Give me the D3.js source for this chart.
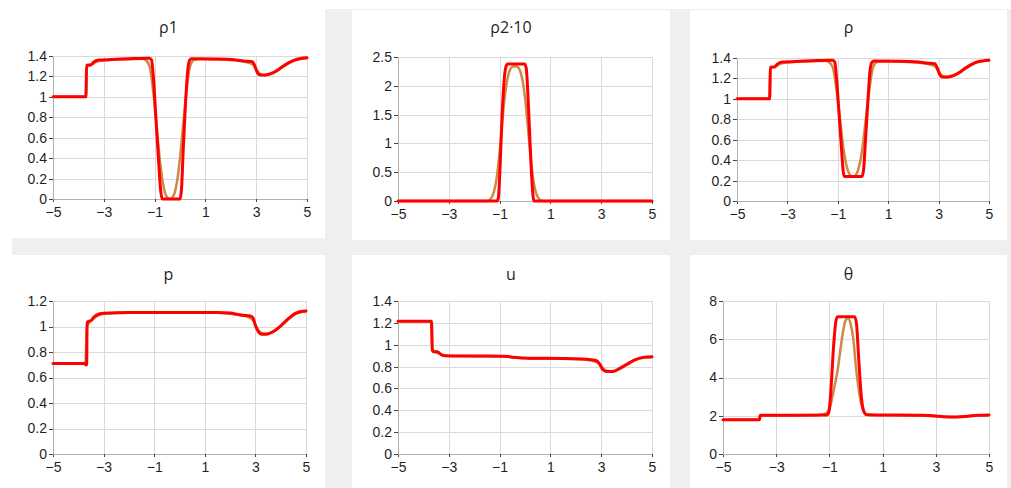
<!DOCTYPE html>
<html>
<head>
<meta charset="utf-8">
<title>Six profiles</title>
<script src="https://d3js.org/d3.v7.min.js"></script>
<style>
  body { margin: 0; background: #fff; }
  svg { display: block; font-family: "Segoe UI", "Open Sans", "Noto Sans", sans-serif; }
  .grid line { stroke: #dadada; stroke-width: 1; shape-rendering: crispEdges; }
  .axis path { stroke: #b0b0b0; shape-rendering: crispEdges; }
  .axis line { stroke: #444; shape-rendering: crispEdges; }
  .axis text { fill: #1f1f1f; font-size: 14px; }
  .title { fill: #1f1f1f; font-size: 16px; text-anchor: middle; }
  .approx { fill: none; stroke: #cd8a45; stroke-width: 2.5; stroke-linejoin: round; }
  .exact { fill: none; stroke: #ff0000; stroke-width: 3; stroke-linejoin: round; stroke-linecap: round; }
</style>
</head>
<body>
<script>
// tick values
var xTicks = [-5, -3, -1, 1, 3, 5];
var rho1Ticks = [0, 0.2, 0.4, 0.6, 0.8, 1, 1.2, 1.4];
var rho2Ticks = [0, 0.5, 1, 1.5, 2, 2.5];
var rhoTicks = [0, 0.2, 0.4, 0.6, 0.8, 1, 1.2, 1.4];
var pTicks = [0, 0.2, 0.4, 0.6, 0.8, 1, 1.2];
var uTicks = [0, 0.2, 0.4, 0.6, 0.8, 1, 1.2, 1.4];
var thetaTicks = [0, 2, 4, 6, 8];

// red = sharp solution, tan = smeared solution ([x, value])
var rho1Exact = [[-5,1],[-3.7,1],[-3.68,1.31],[-3.5,1.315],[-3.4,1.34],[-3.2,1.36],[-2.5,1.368],[-1.8,1.375],[-1.2,1.378],
  [-1.12,1.36],[-1.05,1.2],[-0.95,0.8],[-0.85,0.4],[-0.76,0.08],[-0.7,0],[0,0],[0.06,0.1],[0.13,0.5],[0.22,0.95],
  [0.3,1.25],[0.38,1.36],[0.45,1.372],[1.5,1.37],[2.2,1.362],[2.5,1.352],[2.85,1.345],[2.95,1.3],[3.05,1.235],
  [3.15,1.215],[3.35,1.215],[3.6,1.23],[3.8,1.255],[4.0,1.29],[4.25,1.33],[4.5,1.36],[4.75,1.375],[5,1.382]];
var rho1Approx = [[-5,1],[-3.72,1],[-3.66,1.3],[-3.5,1.312],[-3.35,1.335],[-3.1,1.355],[-2.5,1.365],[-1.8,1.37],[-1.5,1.372],
  [-1.35,1.36],[-1.2,1.3],[-1.1,1.15],[-1.0,0.92],[-0.9,0.66],[-0.8,0.4],[-0.7,0.2],[-0.6,0.07],[-0.5,0.015],[-0.4,0],
  [-0.3,0.015],[-0.2,0.07],[-0.1,0.2],[0,0.4],[0.1,0.66],[0.2,0.92],[0.3,1.15],[0.4,1.3],[0.55,1.36],[0.8,1.37],
  [1.5,1.366],[2.2,1.355],[2.6,1.34],[2.85,1.32],[3.0,1.27],[3.15,1.225],[3.35,1.21],[3.6,1.225],[3.8,1.25],
  [4.0,1.285],[4.25,1.325],[4.5,1.355],[4.75,1.37],[5,1.378]];

var rho2Exact = [[-5,0],[-1.1,0],[-1.05,0.05],[-0.98,0.6],[-0.9,1.5],[-0.82,2.1],[-0.75,2.33],[-0.68,2.38],[-0.02,2.38],
  [0.05,2.3],[0.12,1.8],[0.2,1.0],[0.28,0.3],[0.35,0],[5,0]];
var rho2Approx = [[-5,0],[-1.5,0],[-1.35,0.04],[-1.2,0.2],[-1.1,0.45],[-1.0,0.85],[-0.9,1.35],[-0.8,1.8],[-0.7,2.1],
  [-0.6,2.27],[-0.5,2.33],[-0.4,2.34],[-0.3,2.33],[-0.2,2.27],[-0.1,2.1],[0,1.8],[0.1,1.35],[0.2,0.85],[0.3,0.45],
  [0.4,0.2],[0.55,0.04],[0.7,0],[5,0]];

var rhoExact = [[-5,1],[-3.7,1],[-3.68,1.31],[-3.5,1.315],[-3.4,1.34],[-3.2,1.36],[-2.5,1.368],[-1.8,1.375],[-1.2,1.378],
  [-1.12,1.36],[-1.05,1.2],[-0.95,0.85],[-0.85,0.5],[-0.78,0.28],[-0.74,0.24],[-0.04,0.24],[0.02,0.3],[0.1,0.6],
  [0.2,1.0],[0.28,1.28],[0.36,1.36],[0.45,1.37],[1.5,1.368],[2.2,1.36],[2.5,1.352],[2.85,1.345],[2.95,1.3],
  [3.05,1.235],[3.15,1.215],[3.35,1.215],[3.6,1.23],[3.8,1.255],[4.0,1.29],[4.25,1.33],[4.5,1.36],[4.75,1.372],[5,1.378]];
var rhoApprox = [[-5,1],[-3.72,1],[-3.66,1.3],[-3.5,1.312],[-3.35,1.335],[-3.1,1.355],[-2.5,1.365],[-1.8,1.37],[-1.5,1.372],
  [-1.35,1.36],[-1.2,1.31],[-1.1,1.18],[-1.0,0.99],[-0.9,0.78],[-0.8,0.56],[-0.7,0.4],[-0.6,0.3],[-0.5,0.25],
  [-0.4,0.24],[-0.3,0.25],[-0.2,0.3],[-0.1,0.4],[0,0.56],[0.1,0.78],[0.2,0.99],[0.3,1.18],[0.4,1.31],[0.55,1.36],
  [0.8,1.368],[1.5,1.365],[2.2,1.355],[2.6,1.34],[2.85,1.32],[3.0,1.27],[3.15,1.225],[3.35,1.21],[3.6,1.225],
  [3.8,1.25],[4.0,1.285],[4.25,1.325],[4.5,1.355],[4.75,1.368],[5,1.375]];

var pExact = [[-5,0.71],[-3.78,0.71],[-3.7,0.7],[-3.67,0.7],[-3.65,1.03],[-3.6,1.04],[-3.5,1.045],[-3.4,1.07],
  [-3.28,1.09],[-3.0,1.103],[-2,1.11],[1.5,1.11],[2.0,1.105],[2.3,1.095],[2.5,1.088],[2.8,1.083],[2.9,1.07],
  [3.0,1.01],[3.1,0.965],[3.25,0.94],[3.45,0.94],[3.7,0.96],[4.0,1.005],[4.3,1.062],[4.6,1.105],[4.8,1.118],[5,1.122]];
var pApprox = [[-5,0.71],[-3.72,0.71],[-3.66,1.0],[-3.55,1.035],[-3.4,1.062],[-3.2,1.088],[-3.0,1.1],[-2,1.108],
  [1.5,1.108],[2.0,1.1],[2.4,1.088],[2.7,1.075],[2.9,1.05],[3.05,0.99],[3.2,0.955],[3.4,0.943],[3.7,0.958],
  [4.0,1.0],[4.3,1.055],[4.6,1.098],[4.8,1.112],[5,1.118]];

var uExact = [[-5,1.215],[-3.68,1.215],[-3.65,0.95],[-3.6,0.935],[-3.45,0.935],[-3.3,0.91],[-3.15,0.9],[-2,0.897],
  [-0.8,0.895],[-0.6,0.89],[-0.5,0.885],[0,0.878],[0.2,0.876],[1.5,0.875],[2.3,0.87],[2.8,0.855],[2.95,0.82],
  [3.05,0.775],[3.2,0.755],[3.45,0.755],[3.7,0.78],[4.0,0.82],[4.3,0.86],[4.6,0.882],[5,0.889]];
var uApprox = [[-5,1.215],[-3.7,1.215],[-3.64,0.96],[-3.55,0.935],[-3.4,0.92],[-3.2,0.903],[-3.0,0.897],[-2,0.895],
  [-0.8,0.893],[-0.5,0.886],[0,0.876],[0.2,0.872],[1.5,0.872],[2.3,0.865],[2.7,0.85],[2.9,0.83],[3.05,0.79],
  [3.2,0.762],[3.45,0.755],[3.7,0.775],[4.0,0.815],[4.3,0.855],[4.6,0.878],[5,0.886]];

var thetaExact = [[-5,1.79],[-3.63,1.79],[-3.6,2.02],[-1.1,2.04],[-1.02,2.2],[-0.95,3.2],[-0.85,5.5],[-0.76,6.9],
  [-0.7,7.18],[-0.05,7.18],[0.02,6.8],[0.1,5.0],[0.2,3.0],[0.3,2.2],[0.4,2.05],[1,2.04],[2.5,2.02],[3,1.99],
  [3.3,1.95],[3.8,1.94],[4.2,1.98],[4.6,2.02],[5,2.04]];
var thetaApprox = [[-5,1.79],[-3.65,1.79],[-3.6,2.0],[-1.5,2.02],[-1.2,2.08],[-1.0,2.35],[-0.9,2.9],[-0.8,3.6],
  [-0.7,4.3],[-0.6,5.3],[-0.5,6.3],[-0.4,6.95],[-0.3,7.1],[-0.2,6.8],[-0.1,6.0],[0,4.5],[0.1,3.4],[0.2,2.6],
  [0.3,2.2],[0.45,2.05],[0.7,2.02],[2.5,2.0],[3,1.97],[3.3,1.94],[3.8,1.93],[4.2,1.97],[4.6,2.01],[5,2.03]];

var titles = ["ρ1", "ρ2·10", "ρ", "p", "u", "θ"];
var tickSets = [rho1Ticks, rho2Ticks, rhoTicks, pTicks, uTicks, thetaTicks];
var exactSets = [rho1Exact, rho2Exact, rhoExact, pExact, uExact, thetaExact];
var approxSets = [rho1Approx, rho2Approx, rhoApprox, pApprox, uApprox, thetaApprox];

// layout: white card [x, y, w, h], plot area [left, top, right, bottom], title baseline
var cards = [[12,0,313,238],[352,10,318,230],[690,10,317,230],[12,255,313,240],[352,255,318,240],[690,255,317,240]];
var plots = [[53,56,307,199],[398,57,652,201],[737,58,989,201],[53,301,306,454],[398,301,652,454],[723,301,989,454]];
var titleY = [33, 33, 33, 280, 280, 280];

var svg = d3.select("body").append("svg")
  .attr("width", 1011)
  .attr("height", 488);

svg.append("rect")
  .attr("x", 12).attr("y", 9)
  .attr("width", 1011 - 12).attr("height", 488 - 9)
  .attr("fill", "#efefef");

var fmtX = d3.format("");

titles.forEach(function(title, i) {
  var c = cards[i], b = plots[i], ticks = tickSets[i];

  svg.append("rect")
    .attr("x", c[0]).attr("y", c[1])
    .attr("width", c[2]).attr("height", c[3])
    .attr("fill", "#fff");

  svg.append("text")
    .attr("class", "title")
    .attr("x", c[0] + c[2] / 2)
    .attr("y", titleY[i])
    .text(title);

  var x = d3.scaleLinear().domain([-5, 5]).range([b[0], b[2]]);
  var y = d3.scaleLinear().domain([0, ticks[ticks.length - 1]]).range([b[3], b[1]]);

  var grid = svg.append("g").attr("class", "grid");
  grid.selectAll(".vx").data(xTicks).enter().append("line")
    .attr("x1", function(d) { return Math.round(x(d)) + 0.5; })
    .attr("x2", function(d) { return Math.round(x(d)) + 0.5; })
    .attr("y1", b[1]).attr("y2", b[3]);
  grid.selectAll(".hy").data(ticks).enter().append("line")
    .attr("y1", function(d) { return Math.round(y(d)) + 0.5; })
    .attr("y2", function(d) { return Math.round(y(d)) + 0.5; })
    .attr("x1", b[0]).attr("x2", b[2]);

  svg.append("g")
    .attr("class", "axis")
    .attr("transform", "translate(0," + b[3] + ")")
    .call(d3.axisBottom(x).tickValues(xTicks).tickFormat(fmtX).tickSize(3).tickSizeOuter(0).tickPadding(5));

  svg.append("g")
    .attr("class", "axis")
    .attr("transform", "translate(" + b[0] + ",0)")
    .call(d3.axisLeft(y).tickValues(ticks).tickFormat(function(d) { return String(d); }).tickSize(4).tickSizeOuter(0).tickPadding(2));

  var line = d3.line()
    .x(function(d) { return x(d[0]); })
    .y(function(d) { return y(d[1]); })
    .curve(d3.curveMonotoneX);

  svg.append("path").datum(approxSets[i]).attr("class", "approx").attr("d", line);
  svg.append("path").datum(exactSets[i]).attr("class", "exact").attr("d", line);
});
</script>
</body>
</html>
